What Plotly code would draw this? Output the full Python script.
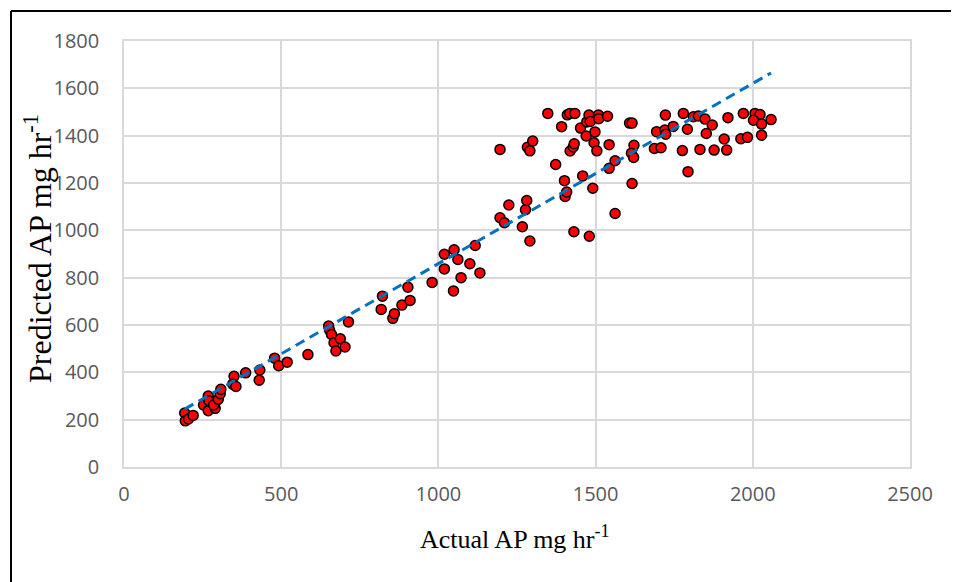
import numpy as np
import plotly.graph_objects as go

actual = [193, 195, 205, 220, 253, 268, 270, 268, 290, 285, 300, 306, 308, 350, 346, 356, 387, 430, 432,
          479, 492, 519, 585, 651, 654, 660, 668, 674, 688, 703, 714,
          822, 818, 855, 860, 884, 903, 910, 980, 1019, 1019, 1050, 1048, 1062, 1072, 1100, 1117, 1132,
          1196, 1210, 1224, 1267, 1277, 1281, 1291, 1196, 1283, 1291, 1300, 1348, 1373, 1392, 1401, 1403,
          1408, 1410, 1418, 1434, 1431, 1419, 1429, 1432, 1452, 1459, 1470, 1472, 1479, 1483, 1480, 1491,
          1495, 1498, 1504, 1509, 1510, 1538, 1543, 1543, 1562, 1562, 1608, 1616, 1622, 1614, 1621, 1616,
          1687, 1694, 1708, 1720, 1723, 1722, 1747, 1779, 1792, 1776, 1794, 1811, 1827, 1832, 1848, 1852,
          1871, 1877, 1909, 1917, 1921, 1962, 1983, 1970, 2007, 2023, 2002, 2028, 2028, 2058]
predicted = [228, 195, 203, 218, 262, 300, 280, 238, 248, 262, 286, 310, 328, 383, 350, 340, 398, 367, 410,
             460, 428, 443, 475, 596, 578, 560, 525, 490, 542, 507, 613,
             722, 666, 628, 648, 684, 760, 704, 780, 899, 837, 918, 744, 877, 800, 859, 936, 820,
             1053, 1032, 1107, 1015, 1087, 1126, 955, 1342, 1351, 1336, 1377, 1494, 1278, 1438, 1210, 1143,
             1162, 1488, 1494, 1494, 994, 1335, 1352, 1366, 1432, 1230, 1399, 1458, 1487, 1460, 975, 1178,
             1370, 1416, 1336, 1487, 1472, 1482, 1362, 1262, 1294, 1071, 1453, 1453, 1359, 1326, 1308, 1198,
             1346, 1417, 1349, 1424, 1406, 1487, 1439, 1494, 1427, 1337, 1248, 1480, 1483, 1342, 1470, 1409,
             1445, 1339, 1386, 1339, 1476, 1387, 1393, 1494, 1494, 1489, 1465, 1449, 1402, 1468]

x_ticks = [0, 500, 1000, 1500, 2000, 2500]
y_ticks = [0, 200, 400, 600, 800, 1000, 1200, 1400, 1600, 1800]

x_title = "Actual AP mg hr<sup>-1</sup>"
y_title = "Predicted AP mg hr<sup>-1</sup>"

xa = np.array(actual, dtype=float)
ya = np.array(predicted, dtype=float)
slope, intercept = np.polyfit(xa, ya, 1)
tx = np.array([xa.min(), xa.max()])
ty = slope * tx + intercept

fig = go.Figure()
fig.add_trace(go.Scatter(
    x=actual, y=predicted, mode="markers",
    marker=dict(color="#FF0000", size=10, line=dict(color="black", width=1.5)),
    showlegend=False,
))
fig.add_trace(go.Scatter(
    x=tx, y=ty, mode="lines",
    line=dict(color="#0070C0", width=3, dash="10px,6px"),
    showlegend=False,
))

L, T, W, H = 116, 33, 786, 426
grid = "#D9D9D9"
tickfont = dict(family="Open Sans, Lato, sans-serif", size=20, color="#595959")
serif = "Liberation Serif, Times New Roman, serif"
fig.update_layout(
    width=959, height=582,
    margin=dict(l=L, r=959 - L - W, t=T, b=582 - T - H),
    paper_bgcolor="white", plot_bgcolor="white",
    xaxis=dict(range=[0, 2500], tickvals=x_ticks, showgrid=True, gridcolor=grid, gridwidth=1.5,
               zeroline=False, showline=True, linecolor=grid, linewidth=1.5, mirror=True,
               tickfont=tickfont, ticks="", ticklabelstandoff=8),
    yaxis=dict(range=[0, 1800], tickvals=y_ticks, showgrid=True, gridcolor=grid, gridwidth=1.5,
               zeroline=False, showline=True, linecolor=grid, linewidth=1.5, mirror=True,
               tickfont=tickfont, ticks="", ticklabelstandoff=19),
)
fig.add_annotation(text=x_title, xref="paper", yref="paper", x=(513 - 122) / W, y=(466 - 536) / H,
                   showarrow=False, xanchor="center", yanchor="middle",
                   font=dict(family=serif, size=26, color="black"))
fig.add_annotation(text=y_title, xref="paper", yref="paper", x=(36 - 122) / W, y=(466 - 248) / H,
                   showarrow=False, xanchor="center", yanchor="middle", textangle=-90,
                   font=dict(family=serif, size=32, color="black"))
fx0, fy1 = (9 - 122) / W, (466 - 10) / H
fig.add_shape(type="line", xref="paper", yref="paper", x0=fx0, x1=1.3, y0=fy1, y1=fy1,
              line=dict(color="black", width=2), layer="above")
fig.add_shape(type="line", xref="paper", yref="paper", x0=fx0, x1=fx0, y0=(466 - 620) / H, y1=fy1,
              line=dict(color="black", width=2), layer="above")

fig.write_html("out.html")
